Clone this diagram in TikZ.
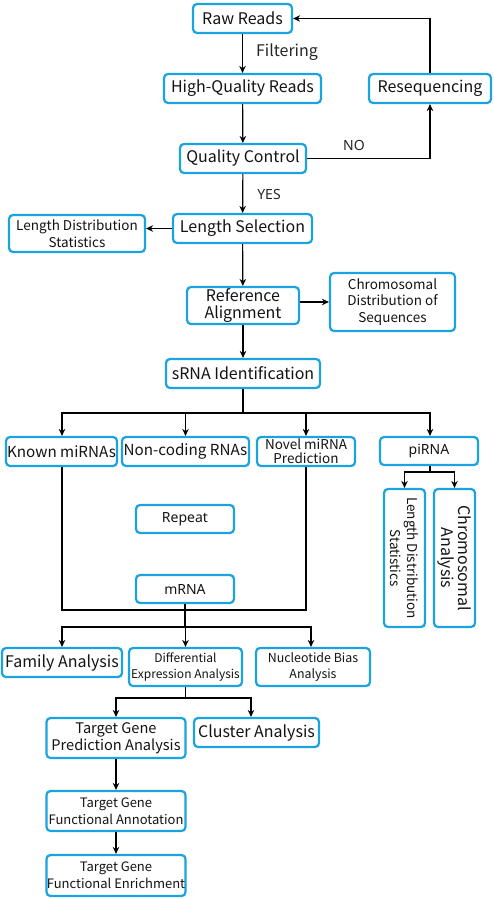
\documentclass[tikz,border=0pt]{standalone}
\usepackage{fontspec}
\setmainfont{Noto Sans CJK SC}
\newfontfamily\labfont{Noto Sans}
\usetikzlibrary{arrows.meta}
\definecolor{boxblue}{HTML}{1AA3DE}
\def\fA{\fontsize{16}{17}\selectfont}
\def\fAs{\fontsize{15.2}{17}\selectfont}
\def\fAt{\fontsize{14.6}{16.7}\selectfont}
\def\fB{\fontsize{13.5}{16.7}\selectfont}
\def\fBs{\fontsize{13}{16.7}\selectfont}
\def\fBn{\fontsize{12.4}{16.7}\selectfont}
\def\fC{\fontsize{12}{15.7}\selectfont}
\def\fD{\fontsize{13.5}{14.3}\selectfont}
\def\fL{\labfont\fontsize{14}{15}\selectfont}
\tikzset{
  box/.style={draw=boxblue, line width=2.2pt, rounded corners=4pt, inner sep=0pt, align=center, text=black!92},
  conn/.style={line width=1.2pt, -{Stealth[length=7pt,width=6.5pt]}},
  wire/.style={line width=1.2pt},
  lab/.style={font=\fL, text=black!85, inner sep=0pt}
}
\begin{document}
\begin{tikzpicture}[x=1pt,y=-1pt]
\useasboundingbox[fill=white] (0,0) rectangle (493,899);
% nodes
\node[box, minimum width=99pt, minimum height=29pt, font=\fA] (raw) at (242.5,18.5) {Raw Reads};
\node[box, minimum width=157pt, minimum height=29pt, font=\fA] (hq) at (242.5,88.5) {High-Quality Reads};
\node[box, minimum width=122pt, minimum height=29pt, font=\fA] (reseq) at (430,88.5) {Resequencing};
\node[box, minimum width=126pt, minimum height=29pt, font=\fA] (qc) at (243,158.5) {Quality Control};
\node[box, minimum width=139pt, minimum height=29pt, font=\fA] (ls) at (242.5,228.5) {Length Selection};
\node[box, minimum width=136pt, minimum height=37pt, font=\fB] (lds) at (77,233.5) {Length Distribution\\Statistics};
\node[box, minimum width=112pt, minimum height=37pt, font=\fA] (ra) at (243,305.5) {Reference\\Alignment};
\node[box, minimum width=125pt, minimum height=58pt, font=\fB] (cds) at (392.5,302) {Chromosomal\\Distribution of\\Sequences};
\node[box, minimum width=154pt, minimum height=29pt, font=\fA] (srna) at (243,373.5) {sRNA Identification};
\node[box, minimum width=111pt, minimum height=29pt, font=\fAs] (known) at (61.5,451.5) {Known miRNAs};
\node[box, minimum width=127pt, minimum height=29pt, font=\fAs] (ncr) at (185.5,451.5) {Non-coding RNAs};
\node[box, minimum width=98pt, minimum height=29pt, font=\fD] (novel) at (306,451.5) {Novel miRNA\\Prediction};
\node[box, minimum width=98pt, minimum height=28pt, font=\fL] (pirna) at (429,451) {piRNA};
\node[box, minimum width=138pt, minimum height=41pt, font=\fB, rotate=-90] (plds) at (404.5,558) {Length Distribution\\Statistics};
\node[box, minimum width=138pt, minimum height=41pt, font=\fA, rotate=-90] (pca) at (454.5,558) {Chromosomal\\Analysis};
\node[box, minimum width=98pt, minimum height=28pt, font=\fL] (rep) at (185,519) {Repeat};
\node[box, minimum width=98pt, minimum height=28pt, font=\fL] (mrna) at (185,589) {mRNA};
\node[box, minimum width=120pt, minimum height=29pt, font=\fA] (fam) at (62,662.5) {Family Analysis};
\node[box, minimum width=113pt, minimum height=38pt, font=\fC] (dea) at (185.5,667) {Differential\\Expression Analysis};
\node[box, minimum width=114pt, minimum height=38pt, font=\fBn] (nba) at (313,667) {Nucleotide Bias\\Analysis};
\node[box, minimum width=139pt, minimum height=40pt, font=\fAt] (tgpa) at (116,738) {Target Gene\\Prediction Analysis};
\node[box, minimum width=125pt, minimum height=29pt, font=\fA] (clus) at (256.5,732.5) {Cluster Analysis};
\node[box, minimum width=139pt, minimum height=40pt, font=\fBs] (tgfa) at (116,811) {Target Gene\\Functional Annotation};
\node[box, minimum width=139pt, minimum height=41pt, font=\fBs] (tgfe) at (116,875.5) {Target Gene\\Functional Enrichment};
% labels
\node[font=\fA, text=black!85, inner sep=0pt] (filt) at (287,52) {Filtering};
\node[lab] (yes) at (269,195) {YES};
\node[lab] (no) at (354,145) {NO};
% coordinates
\coordinate (b1) at (243,413);
\coordinate (p1) at (430,472);
\coordinate (loopy) at (0,610);
\coordinate (b2) at (185,627);
\coordinate (d1) at (185.5,698);
% connectors
\draw[conn] (raw) -- (hq);
\draw[conn] (hq) -- (qc);
\draw[conn] (qc) -- (ls);
\draw[conn] (ls.west) -- (ls.west -| lds.east);
\draw[conn] (ls) -- (ra);
\draw[conn] (cds.west -| ra.east) -- (cds.west);
\draw[conn] (ra) -- (srna);
\draw[conn] (qc.east) -| (reseq.south);
\draw[conn] (reseq.north) |- (raw.east);
\draw[wire] (srna.south) -- (b1);
\draw[conn] (b1) -| ([xshift=0.5pt]known.north);
\draw[conn] (b1) -| (ncr.north);
\draw[conn] (b1) -| (novel.north);
\draw[conn] (b1) -| ([xshift=1pt]pirna.north);
\draw[wire] ([xshift=1pt]pirna.south) -- (p1);
\draw[conn] (p1) -| (plds.west);
\draw[conn] (p1) -| (pca.west);
\draw[wire] ([xshift=0.5pt]known.south) |- (loopy -| novel.south) -- (novel.south);
\draw[wire] (mrna.south) -- (b2);
\draw[conn] (b2) -| (fam.north);
\draw[conn] (b2) -| (dea.north);
\draw[conn] (b2) -| ([xshift=-2pt]nba.north);
\draw[wire] (dea.south) -- (d1);
\draw[conn] (d1) -| (tgpa.north);
\draw[conn] (d1) -| ([xshift=-5.5pt]clus.north);
\draw[conn] (tgpa) -- (tgfa);
\draw[conn] (tgfa) -- (tgfe);
\end{tikzpicture}
\end{document}
